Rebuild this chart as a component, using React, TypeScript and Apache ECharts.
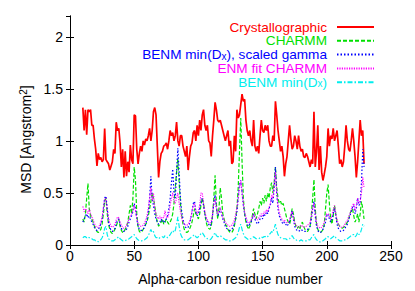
import React, { useEffect, useRef } from 'react';
import * as echarts from 'echarts';

const FIRST_RESIDUE = 10;

const crystallographic = [
  1.32, 1.10, 1.30, 1.06, 1.30, 1.28, 1.30, 1.15, 1.15, 1.02,
  0.92, 0.76, 0.88, 0.82, 0.84, 0.80, 0.82, 1.12, 0.82, 0.80,
  0.78, 0.72, 0.76, 0.80, 0.92, 0.88, 1.18, 1.10, 1.12, 0.98,
  0.75, 0.92, 0.65, 0.90, 0.66, 0.80, 0.70, 0.96, 0.82, 0.78,
  1.25, 1.24, 0.92, 0.78, 0.88, 0.95, 0.90, 1.00, 0.96, 1.02,
  1.00, 1.05, 1.12, 1.00, 1.10, 1.28, 1.32, 1.25, 0.95, 0.65,
  0.80, 0.88, 0.90, 0.95, 0.96, 0.98, 0.92, 1.00, 1.10, 1.05,
  1.08, 1.00, 1.05, 1.18, 1.00, 0.95, 1.05, 1.05, 0.95, 0.90,
  0.85, 0.95, 0.72, 0.85, 0.95, 0.98, 1.08, 1.10, 1.00, 1.15,
  1.05, 1.20, 1.10, 1.25, 1.30, 1.15, 1.10, 1.15, 1.00, 0.98,
  0.85, 1.05, 1.20, 1.37, 1.30, 1.20, 1.18, 1.20, 1.15, 1.10,
  1.05, 1.00, 1.05, 1.10, 0.95, 1.00, 0.78, 0.80, 1.05, 0.90,
  1.30, 1.22, 1.25, 1.35, 1.45, 1.38, 1.40, 1.20, 1.10, 1.05,
  1.10, 1.00, 0.95, 1.20, 0.95, 0.90, 0.95, 0.88, 1.05, 1.20,
  1.10, 1.08, 1.15, 1.10, 1.15, 1.00, 0.95, 0.95, 1.05, 1.00,
  1.38, 1.25, 1.10, 1.00, 0.90, 0.95, 0.85, 0.66, 0.78, 0.85,
  1.00, 1.15, 1.02, 0.92, 0.95, 1.05, 1.00, 0.92, 1.05, 0.95,
  0.90, 0.92, 0.85, 0.84, 0.88, 0.85, 0.80, 0.75, 0.82, 0.78,
  1.28, 0.75, 0.90, 1.15, 0.72, 0.95, 0.70, 0.62, 0.68, 0.75,
  0.85, 1.12, 0.95, 1.05, 1.02, 1.12, 1.00, 1.05, 1.10, 0.95,
  0.78, 0.82, 0.75, 0.80, 0.95, 1.15, 1.00, 0.92, 0.90, 1.00,
  1.12, 1.00, 0.85, 0.65, 0.80, 1.00, 1.20, 1.05, 1.10, 0.78,
];

const charmm = [
  0.25, 0.22, 0.30, 0.45, 0.59, 0.35, 0.28, 0.25, 0.22, 0.18,
  0.15, 0.13, 0.12, 0.13, 0.15, 0.20, 0.30, 0.42, 0.45, 0.30,
  0.20, 0.15, 0.12, 0.11, 0.13, 0.15, 0.18, 0.22, 0.25, 0.18,
  0.14, 0.12, 0.13, 0.15, 0.18, 0.22, 0.30, 0.38, 0.30, 0.45,
  0.75, 0.62, 0.30, 0.18, 0.13, 0.12, 0.13, 0.15, 0.18, 0.20,
  0.22, 0.28, 0.35, 0.42, 0.50, 0.45, 0.38, 0.28, 0.22, 0.18,
  0.20, 0.22, 0.25, 0.20, 0.22, 0.25, 0.22, 0.20, 0.22, 0.25,
  0.30, 0.40, 0.55, 0.70, 0.83, 0.60, 0.40, 0.28, 0.20, 0.15,
  0.13, 0.12, 0.13, 0.15, 0.18, 0.22, 0.28, 0.35, 0.30, 0.28,
  0.25, 0.30, 0.38, 0.45, 0.40, 0.30, 0.22, 0.18, 0.16, 0.15,
  0.18, 0.28, 0.45, 0.67, 0.40, 0.25, 0.35, 0.55, 0.45, 0.30,
  0.25, 0.20, 0.18, 0.15, 0.13, 0.12, 0.12, 0.14, 0.18, 0.25,
  0.35, 0.55, 0.90, 1.22, 0.80, 0.45, 0.30, 0.22, 0.18, 0.15,
  0.18, 0.22, 0.28, 0.35, 0.30, 0.25, 0.30, 0.35, 0.42, 0.38,
  0.45, 0.40, 0.48, 0.42, 0.50, 0.45, 0.55, 0.60, 0.50, 0.60,
  0.75, 0.55, 0.45, 0.40, 0.42, 0.38, 0.40, 0.35, 0.30, 0.25,
  0.22, 0.20, 0.25, 0.35, 0.30, 0.22, 0.18, 0.16, 0.18, 0.15,
  0.20, 0.22, 0.18, 0.15, 0.14, 0.13, 0.15, 0.18, 0.30, 0.45,
  0.63, 0.35, 0.20, 0.15, 0.13, 0.12, 0.13, 0.15, 0.20, 0.35,
  0.50, 0.58, 0.40, 0.25, 0.20, 0.28, 0.38, 0.30, 0.22, 0.20,
  0.18, 0.17, 0.16, 0.17, 0.18, 0.20, 0.22, 0.25, 0.30, 0.33,
  0.35, 0.28, 0.22, 0.25, 0.30, 0.22, 0.30, 0.42, 0.35, 0.25,
];

const benmScaledGamma = [
  0.22, 0.25, 0.28, 0.30, 0.26, 0.28, 0.25, 0.22, 0.20, 0.17,
  0.15, 0.14, 0.15, 0.17, 0.20, 0.25, 0.35, 0.45, 0.47, 0.35,
  0.22, 0.17, 0.14, 0.13, 0.14, 0.16, 0.20, 0.24, 0.25, 0.20,
  0.16, 0.14, 0.13, 0.14, 0.15, 0.18, 0.22, 0.25, 0.28, 0.32,
  0.40, 0.35, 0.25, 0.18, 0.15, 0.14, 0.14, 0.15, 0.17, 0.20,
  0.25, 0.32, 0.45, 0.66, 0.45, 0.38, 0.30, 0.25, 0.22, 0.20,
  0.22, 0.25, 0.22, 0.24, 0.22, 0.25, 0.28, 0.35, 0.45, 0.60,
  0.73, 0.50, 0.45, 0.70, 0.93, 0.70, 0.45, 0.32, 0.25, 0.20,
  0.17, 0.16, 0.17, 0.20, 0.25, 0.32, 0.40, 0.42, 0.32, 0.28,
  0.30, 0.35, 0.42, 0.45, 0.38, 0.30, 0.25, 0.22, 0.20, 0.18,
  0.20, 0.28, 0.40, 0.48, 0.35, 0.28, 0.30, 0.35, 0.30, 0.25,
  0.22, 0.18, 0.16, 0.15, 0.14, 0.14, 0.15, 0.17, 0.20, 0.25,
  0.32, 0.45, 0.58, 0.62, 0.50, 0.38, 0.30, 0.25, 0.20, 0.18,
  0.20, 0.22, 0.25, 0.30, 0.25, 0.22, 0.20, 0.22, 0.25, 0.28,
  0.25, 0.30, 0.28, 0.32, 0.30, 0.35, 0.38, 0.45, 0.40, 0.55,
  0.75, 0.50, 0.35, 0.28, 0.25, 0.22, 0.20, 0.22, 0.20, 0.18,
  0.20, 0.22, 0.28, 0.33, 0.25, 0.18, 0.15, 0.14, 0.13, 0.14,
  0.15, 0.14, 0.13, 0.13, 0.14, 0.15, 0.16, 0.18, 0.25, 0.35,
  0.42, 0.28, 0.18, 0.14, 0.12, 0.12, 0.13, 0.15, 0.18, 0.22,
  0.28, 0.30, 0.25, 0.22, 0.25, 0.30, 0.35, 0.28, 0.20, 0.16,
  0.14, 0.13, 0.13, 0.14, 0.16, 0.18, 0.20, 0.24, 0.28, 0.32,
  0.36, 0.38, 0.30, 0.35, 0.45, 0.38, 0.40, 0.60, 0.92, 0.75,
];

const enmFitCharmm = [
  0.37, 0.32, 0.35, 0.33, 0.30, 0.35, 0.30, 0.27, 0.24, 0.21,
  0.18, 0.17, 0.17, 0.19, 0.22, 0.27, 0.35, 0.44, 0.45, 0.35,
  0.26, 0.21, 0.18, 0.17, 0.18, 0.20, 0.24, 0.27, 0.26, 0.22,
  0.19, 0.17, 0.16, 0.17, 0.19, 0.22, 0.25, 0.28, 0.30, 0.33,
  0.38, 0.33, 0.26, 0.21, 0.19, 0.18, 0.18, 0.19, 0.21, 0.24,
  0.28, 0.35, 0.45, 0.55, 0.42, 0.50, 0.35, 0.30, 0.27, 0.25,
  0.28, 0.25, 0.27, 0.26, 0.33, 0.27, 0.26, 0.30, 0.38, 0.45,
  0.50, 0.42, 0.40, 0.45, 0.50, 0.40, 0.32, 0.26, 0.22, 0.20,
  0.19, 0.19, 0.20, 0.22, 0.26, 0.32, 0.38, 0.40, 0.33, 0.30,
  0.33, 0.38, 0.50, 0.50, 0.40, 0.32, 0.27, 0.24, 0.22, 0.21,
  0.23, 0.30, 0.40, 0.45, 0.36, 0.30, 0.32, 0.36, 0.31, 0.27,
  0.24, 0.22, 0.20, 0.19, 0.18, 0.18, 0.19, 0.21, 0.24, 0.29,
  0.36, 0.45, 0.55, 0.62, 0.50, 0.40, 0.32, 0.27, 0.23, 0.21,
  0.22, 0.24, 0.27, 0.30, 0.27, 0.25, 0.24, 0.26, 0.28, 0.30,
  0.28, 0.32, 0.30, 0.34, 0.32, 0.36, 0.40, 0.48, 0.45, 0.58,
  0.70, 0.50, 0.38, 0.31, 0.27, 0.25, 0.23, 0.24, 0.22, 0.21,
  0.22, 0.24, 0.29, 0.32, 0.26, 0.21, 0.19, 0.18, 0.17, 0.18,
  0.19, 0.18, 0.17, 0.17, 0.18, 0.19, 0.20, 0.22, 0.28, 0.36,
  0.40, 0.30, 0.22, 0.18, 0.17, 0.16, 0.17, 0.19, 0.22, 0.26,
  0.30, 0.30, 0.27, 0.25, 0.28, 0.34, 0.38, 0.30, 0.24, 0.20,
  0.18, 0.17, 0.17, 0.18, 0.20, 0.22, 0.24, 0.27, 0.30, 0.34,
  0.38, 0.40, 0.33, 0.38, 0.45, 0.40, 0.42, 0.50, 0.65, 0.55,
];

const benmMinDx = [
  0.07, 0.08, 0.08, 0.07, 0.08, 0.07, 0.07, 0.06, 0.05, 0.05,
  0.04, 0.04, 0.03, 0.04, 0.05, 0.07, 0.10, 0.16, 0.18, 0.10,
  0.06, 0.05, 0.04, 0.04, 0.04, 0.05, 0.06, 0.07, 0.08, 0.06,
  0.05, 0.04, 0.04, 0.04, 0.05, 0.05, 0.06, 0.07, 0.08, 0.09,
  0.10, 0.08, 0.06, 0.05, 0.04, 0.04, 0.04, 0.05, 0.05, 0.06,
  0.07, 0.09, 0.12, 0.15, 0.12, 0.13, 0.09, 0.07, 0.07, 0.06,
  0.07, 0.07, 0.08, 0.07, 0.09, 0.08, 0.07, 0.08, 0.10, 0.12,
  0.14, 0.12, 0.14, 0.20, 0.27, 0.18, 0.11, 0.08, 0.06, 0.05,
  0.05, 0.05, 0.05, 0.06, 0.07, 0.08, 0.09, 0.10, 0.08, 0.07,
  0.08, 0.09, 0.11, 0.12, 0.10, 0.08, 0.07, 0.06, 0.06, 0.05,
  0.06, 0.08, 0.10, 0.12, 0.09, 0.08, 0.08, 0.09, 0.08, 0.07,
  0.06, 0.05, 0.05, 0.05, 0.04, 0.04, 0.04, 0.05, 0.06, 0.07,
  0.09, 0.12, 0.17, 0.20, 0.15, 0.11, 0.08, 0.07, 0.06, 0.05,
  0.06, 0.06, 0.07, 0.08, 0.07, 0.06, 0.06, 0.06, 0.07, 0.08,
  0.07, 0.08, 0.08, 0.09, 0.08, 0.10, 0.11, 0.13, 0.12, 0.16,
  0.20, 0.14, 0.10, 0.08, 0.07, 0.06, 0.06, 0.06, 0.06, 0.05,
  0.06, 0.06, 0.08, 0.09, 0.07, 0.05, 0.05, 0.04, 0.04, 0.04,
  0.05, 0.04, 0.04, 0.04, 0.04, 0.04, 0.05, 0.05, 0.07, 0.09,
  0.10, 0.07, 0.05, 0.04, 0.03, 0.03, 0.04, 0.04, 0.05, 0.06,
  0.08, 0.08, 0.07, 0.06, 0.07, 0.08, 0.09, 0.07, 0.06, 0.05,
  0.04, 0.04, 0.04, 0.04, 0.05, 0.05, 0.06, 0.07, 0.08, 0.09,
  0.10, 0.10, 0.08, 0.09, 0.12, 0.10, 0.11, 0.15, 0.20, 0.18,
];

const X_TICKS = { min: 0, max: 250, interval: 50 };
const Y_TICKS = { min: 0, max: 2.2, interval: 0.5 };

const SERIES = [
  { name: 'Crystallographic', values: crystallographic, color: '#ff0000', type: 'solid' as any, width: 1.7 },
  { name: 'CHARMM', values: charmm, color: '#00e000', type: [4, 2] as any, width: 1.2 },
  { name: 'BENM min(D_x), scaled gamma', values: benmScaledGamma, color: '#0000ff', type: [1.5, 2] as any, width: 1.2 },
  { name: 'ENM fit CHARMM', values: enmFitCharmm, color: '#ff00ff', type: [1.2, 1.2] as any, width: 1.1 },
  { name: 'BENM min(D_x)', values: benmMinDx, color: '#00eeee', type: [5, 2, 1.5, 2] as any, width: 1.2 },
];

const LEGEND_ROW_CENTERS = [27, 40.8, 54.6, 68.4, 82.2];

const FONT = '"Liberation Sans", Arial, sans-serif';

export default function App() {
  const ref = useRef<HTMLDivElement>(null);
  useEffect(() => {
    if (!ref.current) return;
    const chart = echarts.init(ref.current, null, { renderer: 'svg' });
    const axisCommon = {
      axisLine: { show: true, lineStyle: { color: '#000', width: 1 } },
      axisTick: { show: true, inside: true, length: 4, lineStyle: { color: '#000' } },
      splitLine: { show: false },
    };
    chart.setOption({
      animation: false,
      backgroundColor: '#fff',
      textStyle: { fontFamily: FONT },
      grid: { left: 70, right: 24, top: 16, bottom: 42, containLabel: false },
      xAxis: [
        {
          type: 'value', ...X_TICKS, position: 'bottom', ...axisCommon,
          name: 'Alpha-carbon residue number', nameLocation: 'middle', nameGap: 27,
          nameTextStyle: { fontFamily: FONT, fontSize: 14, color: '#000' },
          axisLabel: { fontFamily: FONT, fontSize: 14, color: '#000', margin: 4 },
        },
        {
          type: 'value', ...X_TICKS, position: 'top', ...axisCommon,
          axisLabel: { show: false },
        },
      ],
      yAxis: [
        {
          type: 'value', ...Y_TICKS, position: 'left', ...axisCommon,
          name: 'MSD [Angstrom{sup|2}]{gap|}', nameLocation: 'middle', nameGap: 33, nameRotate: 90,
          nameTextStyle: {
            fontFamily: FONT, fontSize: 14, color: '#000', lineHeight: 14,
            rich: {
              sup: { fontFamily: FONT, fontSize: 10, lineHeight: 4, verticalAlign: 'top', color: '#000' },
              gap: { width: 18, lineHeight: 14 },
            },
          },
          axisLabel: { fontFamily: FONT, fontSize: 14, color: '#000', margin: 7, showMaxLabel: false },
        },
        {
          type: 'value', ...Y_TICKS, position: 'right', ...axisCommon,
          axisLabel: { show: false },
        },
      ],
      legend: SERIES.map((s, i) => ({
        orient: 'vertical',
        align: 'right',
        right: 40,
        top: LEGEND_ROW_CENTERS[i] - 7,
        padding: 0,
        itemWidth: 37,
        itemHeight: 14,
        selectedMode: false,
        itemStyle: { opacity: 0 },
        data: [{ name: s.name, textStyle: { color: s.color } }],
        formatter: (name: string) => name.replace('D_x', 'D{sub|x}') + '{gap|}',
        textStyle: {
          fontFamily: FONT, fontSize: 13.6, lineHeight: 13,
          rich: {
            sub: { fontFamily: FONT, fontSize: 10, lineHeight: 4, verticalAlign: 'bottom' },
            gap: { width: 5, lineHeight: 13 },
          },
        },
      })),
      series: SERIES.map((s) => ({
        name: s.name,
        type: 'line',
        xAxisIndex: 0,
        yAxisIndex: 0,
        symbol: 'none',
        showSymbol: false,
        data: s.values.map((v, i) => [FIRST_RESIDUE + i, v]),
        lineStyle: { color: s.color, width: s.width, type: s.type },
        itemStyle: { color: s.color },
      })),
    });
    return () => chart.dispose();
  }, []);
  return <div ref={ref} style={{ width: 415, height: 291, position: 'absolute', left: 0, top: 0 }} />;
}
